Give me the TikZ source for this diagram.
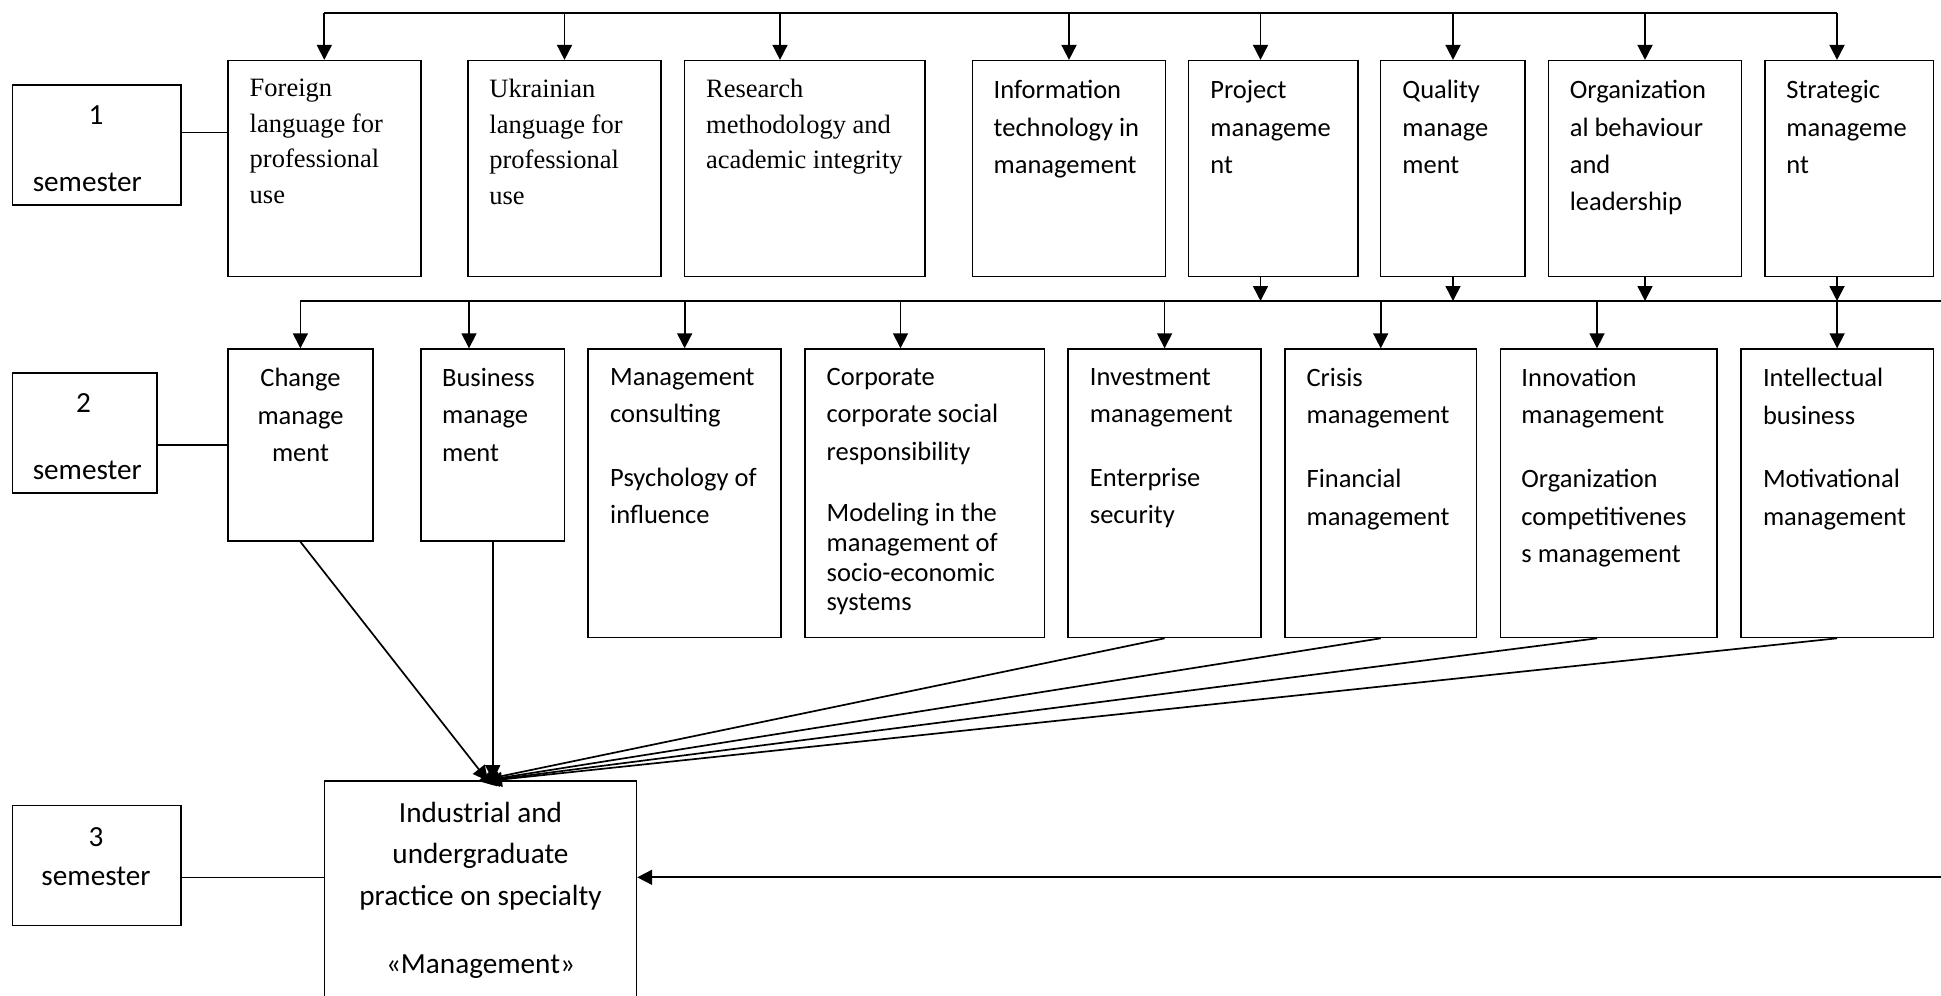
\documentclass[tikz,border=0pt]{standalone}
\usepackage{fontspec}
\setmainfont{Carlito}
\newfontfamily\tnr{Liberation Serif}
\usetikzlibrary{arrows.meta,fit}
\begin{document}
\begin{tikzpicture}[x=0.5pt,y=-0.5pt,
  box/.style={draw, line width=0.8pt, inner sep=0pt},
  arr/.style={line width=0.85pt, -{Triangle[length=7.5pt,width=7.5pt]}},
  ln/.style={line width=0.75pt},
  topln/.style={line width=1pt},
  tn/.style={font=\tnr\fontsize{13.25}{17.8}\selectfont, align=left, anchor=north west, inner sep=0pt},
  cb/.style={font=\fontsize{13.25}{18.7}\selectfont, align=left, anchor=north west, inner sep=0pt},
  cbc/.style={font=\fontsize{13.25}{18.7}\selectfont, align=center, anchor=north, inner sep=0pt},
  cbs/.style={font=\fontsize{13.25}{14.85}\selectfont, align=left, anchor=north west, inner sep=0pt},
  big/.style={font=\fontsize{14.6}{20.6}\selectfont, align=center, inner sep=0pt}
]
\useasboundingbox (0,0) rectangle (1941,995);
\clip (0,0) rectangle (1941,995);

% ---------- semester boxes ----------
\node[box, fit={(12.4,85)(180.8,205)}] (s1) {};
\node[box, fit={(12.4,373)(157,493)}] (s2) {};
\node[box, fit={(12.4,805.5)(180.8,925.3)}] (s3) {};
\node[big] (s1a) at (96,115.5) {1};
\node[big] (s1b) at (87.3,182) {semester};
\node[big] (s2a) at (83.6,403.3) {2};
\node[big] (s2b) at (87.3,470.5) {semester};
\node[big] (s3a) at (96,836.7) {3};
\node[big] (s3b) at (96,876.5) {semester};

% ---------- row 1 ----------
\node[box, fit={(227.8,60.7)(420.9,276.5)}] (f1) {};
\node[box, fit={(467.9,60.7)(661,276.5)}] (f2) {};
\node[box, fit={(684.6,60.7)(924.7,276.5)}] (f3) {};
\node[box, fit={(972.5,60.7)(1165.3,276.5)}] (f4) {};
\node[box, fit={(1188.5,60.7)(1357.8,276.5)}] (f5) {};
\node[box, fit={(1380.4,60.7)(1525,276.5)}] (f6) {};
\node[box, fit={(1548.5,60.7)(1741.6,276.5)}] (f7) {};
\node[box, fit={(1765,60.7)(1933.5,276.5)}] (f8) {};

\node[tn] (tf1) at (249.3,78.8) {Foreign\\language for\\professional\\use};
\node[tn] (tf2) at (489,78.8) {Ukrainian\\language for\\professional\\use};
\node[tn] (tf3) at (705.8,78.8) {Research\\methodology and\\academic integrity};
\node[cb] (tf4) at (993.3,80) {Information\\technology in\\management};
\node[cb] (tf5) at (1210,80) {Project\\manageme\\nt};
\node[cb] (tf6) at (1402,80) {Quality\\manage\\ment};
\node[cb] (tf7) at (1569.4,80) {Organization\\al behaviour\\and\\leadership};
\node[cb] (tf8) at (1786,80) {Strategic\\manageme\\nt};

% ---------- row 2 ----------
\node[box, fit={(227.8,349.1)(373,541)}] (g1) {};
\node[box, fit={(420.9,349.1)(564.6,541)}] (g2) {};
\node[box, fit={(588.1,349.1)(781.2,637.5)}] (g3) {};
\node[box, fit={(804.8,349.1)(1044.4,637.5)}] (g4) {};
\node[box, fit={(1068,349.1)(1261.2,637.5)}] (g5) {};
\node[box, fit={(1284.8,349.1)(1476.6,637.5)}] (g6) {};
\node[box, fit={(1500.5,349.1)(1716.8,637.5)}] (g7) {};
\node[box, fit={(1740.7,349.1)(1933.5,637.5)}] (g8) {};

\node[cbc] (tg1) at (300.5,367.8) {Change\\manage\\ment};
\node[cb] (tg2) at (441.7,367.8) {Business\\manage\\ment};
\node[cb] (tg3) at (609.8,367.8) {Management\\consulting\\[13.25pt]Psychology of\\influence};
\node[cb] (tg4) at (826.3,367.8) {Corporate\\corporate social\\responsibility};
\node[cbs] (tg4b) at (826.3,503) {Modeling in the\\management of\\socio-economic\\systems};
\node[cb] (tg5) at (1089.5,367.8) {Investment\\management\\[13.25pt]Enterprise\\security};
\node[cb] (tg6) at (1306.2,367.8) {Crisis\\management\\[13.25pt]Financial\\management};
\node[cb] (tg7) at (1521,367.8) {Innovation\\management\\[13.25pt]Organization\\competitivenes\\s management};
\node[cb] (tg8) at (1762.6,367.8) {Intellectual\\business\\[13.25pt]Motivational\\management};

% ---------- row 3 ----------
\node[box, fit={(324.6,781)(636.4,1010)}] (ind) {};
\node[big, anchor=north] (tind) at (480.5,802) {Industrial and\\undergraduate\\practice on specialty\\[13.5pt]«Management»};

% ---------- semester connectors ----------
\coordinate (c1) at (180.8,132.7);
\coordinate (c2) at (157,445);
\coordinate (c3) at (180.8,877.3);
\draw[ln] (s1.east |- c1) -- (f1.west |- c1);
\draw[ln] (s2.east |- c2) -- (g1.west |- c2);
\draw[ln] (s3.east |- c3) -- (ind.west |- c3);

% ---------- top bus ----------
\coordinate (t1) at (324.3,12.7);
\coordinate (t2) at (564.5,12.7);
\coordinate (t3) at (780,12.7);
\coordinate (t4) at (1069,12.7);
\coordinate (t5) at (1260.5,12.7);
\coordinate (t6) at (1453,12.7);
\coordinate (t7) at (1645,12.7);
\coordinate (t8) at (1837,12.7);
\draw[topln] (t1) -- (t8);
\draw[arr] (t1) -- (t1 |- f1.north);
\draw[arr] (t2) -- (t2 |- f2.north);
\draw[arr] (t3) -- (t3 |- f3.north);
\draw[arr] (t4) -- (t4 |- f4.north);
\draw[arr] (t5) -- (t5 |- f5.north);
\draw[arr] (t6) -- (t6 |- f6.north);
\draw[arr] (t7) -- (t7 |- f7.north);
\draw[arr] (t8) -- (t8 |- f8.north);

% ---------- middle bus ----------
\coordinate (m0) at (300.4,301);
\coordinate (mr) at (1941,301);
\draw[ln] (m0) -- (mr);
\draw[arr] (t5 |- f5.south) -- (t5 |- m0);
\draw[arr] (t6 |- f6.south) -- (t6 |- m0);
\draw[arr] (t7 |- f7.south) -- (t7 |- m0);
\draw[arr] (t8 |- f8.south) -- (t8 |- m0);

\coordinate (u2) at (469,301);
\coordinate (u4) at (900.5,301);
\coordinate (u7) at (1597,301);
\draw[arr] (m0) -- (m0 |- g1.north);
\draw[arr] (u2) -- (u2 |- g2.north);
\draw[arr] (g3.north |- m0) -- (g3.north);
\draw[arr] (u4) -- (u4 |- g4.north);
\draw[arr] (g5.north |- m0) -- (g5.north);
\draw[arr] (g6.north |- m0) -- (g6.north);
\draw[arr] (u7) -- (u7 |- g7.north);
\draw[arr] (g8.north |- m0) -- (g8.north);

% ---------- into the practice box ----------
\coordinate (e1) at (488,781);
\coordinate (e5) at (478,781);
\coordinate (e6) at (481,781);
\coordinate (e7) at (484,781);
\coordinate (e8) at (487,781);
\draw[arr] (g1.south) -- (e1);
\draw[arr] (g2.south) -- (g2.south |- ind.north);
\draw[arr] (g5.south) -- (e5);
\draw[arr] (g6.south) -- (e6);
\draw[arr] (u7 |- g7.south) -- (e7);
\draw[arr] (g8.south) -- (e8);

\coordinate (rin) at (1941,877.3);
\draw[arr] (rin) -- (ind.east |- rin);
\end{tikzpicture}
\end{document}
